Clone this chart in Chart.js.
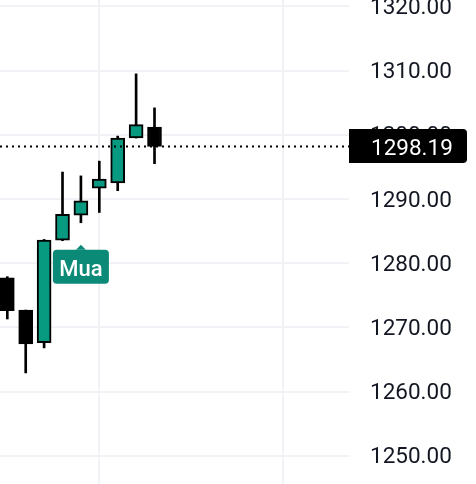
<!DOCTYPE html>
<html>
<head>
<meta charset="utf-8">
<script src="https://cdn.jsdelivr.net/npm/chart.js@4"></script>
<style>
  html, body { margin: 0; padding: 0; background: #fff; }
  #wrap { width: 476px; height: 484px; position: relative; }
</style>
</head>
<body>
<div id="wrap"><canvas id="c"></canvas></div>
<script>
// candles, oldest first (bar index on x)
const IDX   = [0, 1, 2, 3, 4, 5, 6, 7, 8];
const OPEN  = [1277.7, 1272.7, 1267.6, 1283.6, 1287.5, 1291.7, 1292.5, 1299.5, 1301.2];
const CLOSE = [1272.6, 1267.4, 1283.6, 1287.6, 1289.7, 1293.1, 1299.5, 1301.6, 1298.19];
const HIGH  = [1277.9, 1272.7, 1283.7, 1294.2, 1293.6, 1295.9, 1299.8, 1309.5, 1304.2];
const LOW   = [1271.3, 1262.9, 1266.8, 1283.5, 1286.3, 1287.9, 1291.3, 1299.5, 1295.5];

const Y_TICKS = [1250, 1260, 1270, 1280, 1290, 1300, 1310, 1320];
const X_GRID = [5, 15];
const LAST = 1298.19;
const MARK_IDX = 4, MARK_TEXT = "Mua";

const UP = "#089981", DOWN = "#000000", TAG = "#0b8a78", GRID = "#f0f2f5", TEXT = "#131722";
const FONT = "Roboto, 'Open Sans', sans-serif";
const X_MIN = -0.397, X_MAX = 18.57, Y_MIN = 1245.59, Y_MAX = 1321.01;

const colors = IDX.map((i) => (CLOSE[i] >= OPEN[i] ? UP : DOWN));

// last price tag + buy marker, placed through the scales
const overlay = {
  id: "overlay",
  afterDraw(chart) {
    const { ctx, chartArea: a, scales: { x, y } } = chart;
    ctx.save();
    const py = Math.round(y.getPixelForValue(LAST));
    ctx.fillStyle = "#000";
    ctx.beginPath();
    ctx.roundRect(a.right, py - 17, 118, 34, [0, 4, 4, 0]);
    ctx.fill();
    ctx.fillStyle = "#fff";
    ctx.font = `22.5px ${FONT}`;
    ctx.textAlign = "left";
    ctx.textBaseline = "alphabetic";
    ctx.fillText(LAST.toFixed(2), a.right + 22, py + 9);

    const mx = x.getPixelForValue(MARK_IDX);
    const my = y.getPixelForValue(LOW[MARK_IDX]) + 22;
    ctx.fillStyle = TAG;
    ctx.beginPath();
    ctx.moveTo(mx - 5, my + 5); ctx.lineTo(mx, my); ctx.lineTo(mx + 5, my + 5);
    ctx.fill();
    ctx.beginPath();
    ctx.roundRect(mx - 28, my + 5, 56, 34, 4);
    ctx.fill();
    ctx.fillStyle = "#fff";
    ctx.textAlign = "center";
    ctx.font = `500 22px ${FONT}`;
    ctx.fillText(MARK_TEXT, mx, my + 31);
    ctx.restore();
  },
};

new Chart(document.getElementById("c"), {
  type: "bar",
  data: {
    datasets: [
      {
        type: "line", order: 0,
        data: [{ x: X_MIN, y: LAST }, { x: X_MAX, y: LAST }],
        borderColor: "#000", borderWidth: 2, borderDash: [2, 4], pointRadius: 0,
      },
      {
        order: 1,
        data: IDX.map((i) => ({ x: i, y: [OPEN[i], CLOSE[i]] })),
        backgroundColor: colors, borderColor: "#000", borderWidth: 2,
        borderSkipped: false, barThickness: 14, grouped: false,
      },
      {
        order: 2,
        data: IDX.map((i) => ({ x: i, y: [LOW[i], HIGH[i]] })),
        backgroundColor: "#000", borderWidth: 0, barThickness: 2, grouped: false,
      },
    ],
  },
  options: {
    responsive: true, maintainAspectRatio: false, animation: false,
    layout: { padding: 0 },
    plugins: { legend: { display: false }, tooltip: { enabled: false } },
    scales: {
      x: {
        type: "linear", min: X_MIN, max: X_MAX, offset: false, bounds: "data",
        afterBuildTicks: (s) => { s.ticks = X_GRID.map((v) => ({ value: v })); },
        afterFit: (s) => { s.height = 0; s.paddingLeft = 0; s.paddingRight = 0; },
        ticks: { display: false },
        grid: { color: GRID, lineWidth: 2, drawTicks: false, offset: false },
        border: { display: false },
      },
      y: {
        position: "right", min: Y_MIN, max: Y_MAX,
        afterBuildTicks: (s) => { s.ticks = Y_TICKS.map((v) => ({ value: v })); },
        afterFit: (s) => { s.width = 127; s.paddingTop = 0; s.paddingBottom = 0; },
        grid: { color: GRID, lineWidth: 2, drawTicks: false },
        border: { display: false },
        ticks: {
          padding: 21, labelOffset: 2, color: TEXT,
          font: { family: FONT, size: 22.5 }, callback: (v) => v.toFixed(2),
        },
      },
    },
  },
  plugins: [overlay],
});
</script>
</body>
</html>
